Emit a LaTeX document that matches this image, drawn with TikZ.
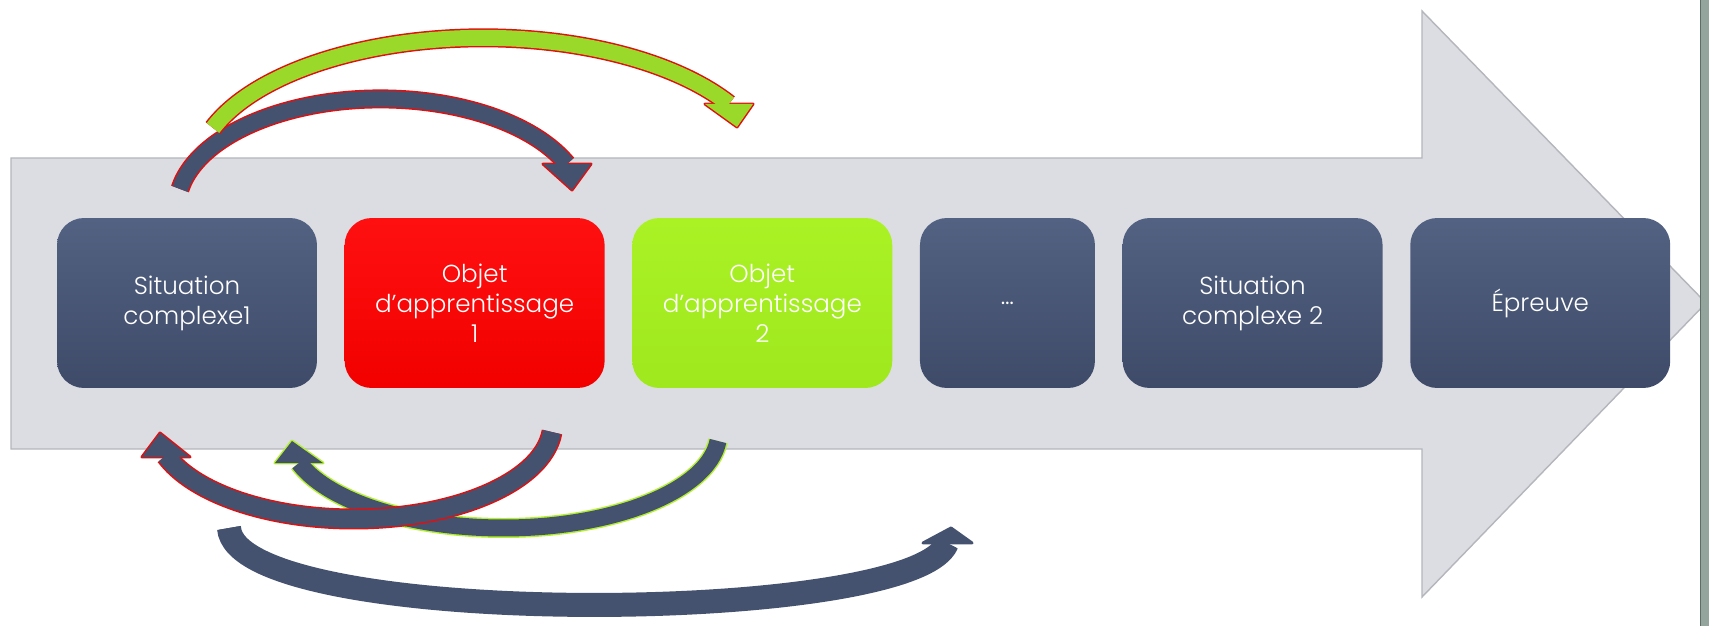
\documentclass[tikz,border=0pt]{standalone}
\usepackage{fontspec}
\setmainfont{Poppins}[UprightFont={* Light}]
\usetikzlibrary{positioning}

\definecolor{band}{HTML}{DCDDE2}
\definecolor{bandedge}{HTML}{B4B6BC}
\definecolor{slatetop}{HTML}{536282}
\definecolor{slatebot}{HTML}{3E4A68}
\definecolor{slate}{HTML}{45526F}
\definecolor{redtop}{HTML}{FF1010}
\definecolor{redbot}{HTML}{F20000}
\definecolor{greentop}{HTML}{AAF224}
\definecolor{greenbot}{HTML}{9FE81E}
\definecolor{lime}{HTML}{9AD82A}
\definecolor{limeedge}{HTML}{B4F030}
\definecolor{rededge}{HTML}{E01010}
\definecolor{strip}{HTML}{93A59C}
\definecolor{stripedge}{HTML}{5E6E66}

\tikzset{
  stage/.style={rounded corners=0.54cm, minimum height=3.4cm, minimum width=5.2cm,
    text=white, align=center, font=\fontsize{14}{17}\selectfont,
    top color=slatetop, bottom color=slatebot},
}

% #1 edge colour, #2 body colour, #3 shaft width, #4 shaft path, #5 head path
\newcommand{\bentarrow}[5]{%
  \draw[#1, line width=#3+1.7pt] #4;
  \filldraw[#1, line width=1.7pt, line join=round] #5;
  \draw[#2, line width=#3] #4;
  \fill[#2] #5;
}

\begin{document}
\begin{tikzpicture}[x=0.02cm, y=0.02cm]
  \useasboundingbox (0,0) rectangle (1709,626);

  % large arrow in the background
  \draw[fill=band, draw=bandedge, line width=0.8pt] (11,177) -- (11,468) -- (1422,468) -- (1422,615)
    -- (1706,323) -- (1422,29) -- (1422,177) -- cycle;

  % the stages
  \node[stage] (sc1) at (187,323) {Situation\\complexe1};
  \node[stage, top color=redtop, bottom color=redbot, right=0.54cm of sc1] (obj1) {Objet\\d’apprentissage\\1};
  \node[stage, top color=greentop, bottom color=greenbot, right=0.54cm of obj1] (obj2) {Objet\\d’apprentissage\\2};
  \node[stage, minimum width=3.5cm, right=0.54cm of obj2] (etc) {\dots};
  \node[stage, right=0.54cm of etc] (sc2) {Situation\\complexe 2};
  \node[stage, right=0.54cm of sc2] (test) {Épreuve};

  % tails and tips of the bent arrows
  \coordinate (up1s) at (180,437);
  \coordinate (up1e) at (572,436);
  \coordinate (up2s) at (213,498);
  \coordinate (up2e) at (737,499);
  \coordinate (dn1s) at (552,194);
  \coordinate (dn1e) at (160,193);
  \coordinate (dn2s) at (718,185);
  \coordinate (dn2e) at (292,185);
  \coordinate (dn3s) at (229,98);
  \coordinate (dn3e) at (951,98);

  % above the band
  \bentarrow{rededge}{slate}{0.32cm}
    {(up1s) arc[start angle=170, end angle=23.8, x radius=203.7, y radius=109]}
    {(up1e) -- ++(-29,26) -- ++(48,0) -- cycle}
  \bentarrow{rededge}{lime}{0.32cm}
    {(up2s) arc[start angle=160, end angle=31.2, x radius=287.5, y radius=137]}
    {(up2e) -- ++(-32,23) -- ++(48,0) -- cycle}

  % below the band
  \bentarrow{limeedge}{slate}{0.34cm}
    {(dn2s) arc[start angle=-5, end angle=-161.5, x radius=215.5, y radius=95.3]}
    {(dn2e) -- ++(-17,-22) -- ++(48,0) -- cycle}
  \bentarrow{rededge}{slate}{0.36cm}
    {(dn1s) arc[start angle=-5, end angle=-160.4, x radius=199.2, y radius=95.3]}
    {(dn1e) -- ++(-18,-24) -- ++(48,0) -- cycle}
  \bentarrow{slate}{slate}{0.42cm}
    {(dn3s) .. controls (236,-4) and (915,0) .. (947,83)}
    {(dn3e) -- ++(-28,-15) -- ++(49,0) -- cycle}

  % strip at the right edge
  \fill[strip] (1700,0) rectangle (1709,626);
  \draw[stripedge, line width=0.6pt] (1700,0) -- (1700,626);
\end{tikzpicture}
\end{document}
